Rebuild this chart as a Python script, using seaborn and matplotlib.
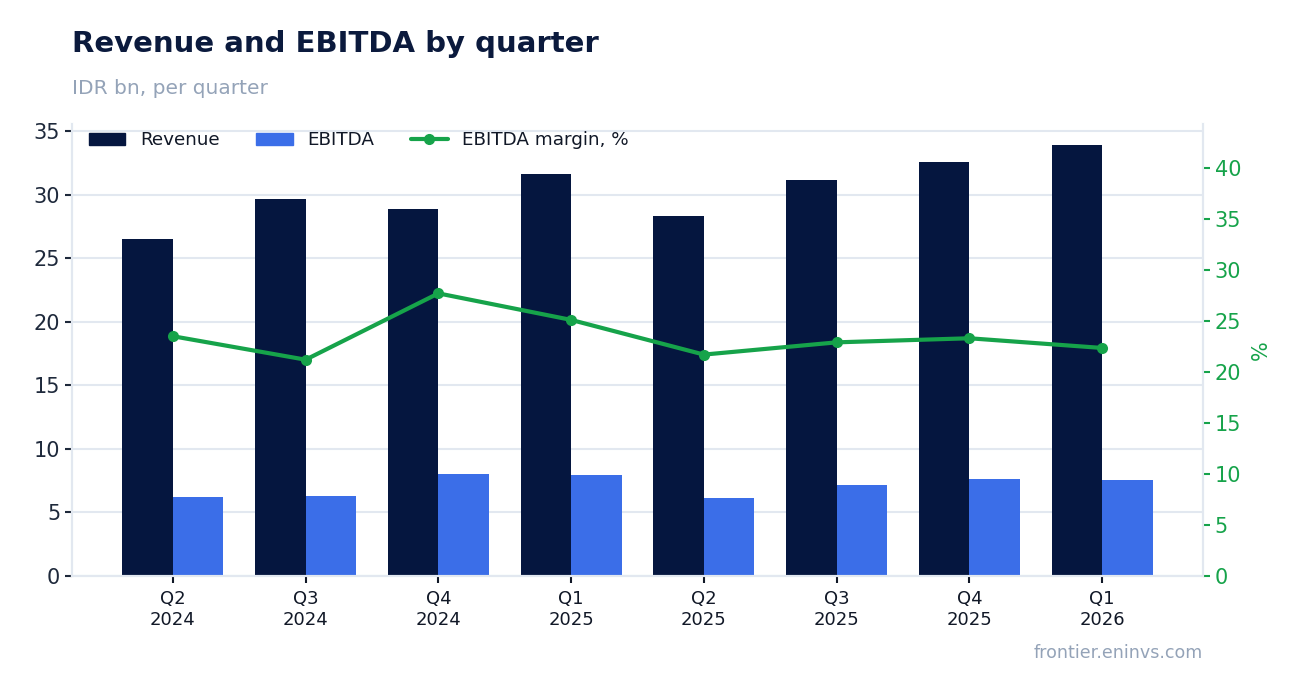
import numpy as np
import pandas as pd
import seaborn as sns
from matplotlib import pyplot as plt
from matplotlib.patches import Patch
from matplotlib.lines import Line2D

quarters = ["Q2\n2024", "Q3\n2024", "Q4\n2024", "Q1\n2025",
            "Q2\n2025", "Q3\n2025", "Q4\n2025", "Q1\n2026"]
revenue = [26.5, 29.65, 28.87, 31.62, 28.31, 31.15, 32.56, 33.9]
ebitda = [6.21, 6.29, 8.02, 7.94, 6.13, 7.16, 7.63, 7.55]
margin = [23.5, 21.2, 27.7, 25.1, 21.7, 22.9, 23.3, 22.35]

navy = "#05163f"
blue = "#3b6ee8"
green = "#16a34a"
grid_c = "#e2e8f0"

sns.set_theme(style="white")
plt.rcParams['font.family'] = ['DejaVu Sans']

df = pd.DataFrame({
    "quarter": quarters * 2,
    "value": revenue + ebitda,
    "series": ["Revenue"] * len(quarters) + ["EBITDA"] * len(quarters),
})

fig = plt.figure(figsize=(13.02, 6.93), dpi=100)
ax = fig.add_axes([72 / 1302, 1 - 576 / 693, (1203 - 72) / 1302, (576 - 124) / 693])

sns.barplot(data=df, x="quarter", y="value", hue="series",
            palette=[navy, blue], width=0.76, gap=0, saturation=1,
            linewidth=0, ax=ax, legend=False)
ax.set_xlim(-0.76, len(quarters) - 1 + 0.76)
ax.set_ylim(0, 35.55)
ax.set_yticks(range(0, 36, 5))
ax.set_xlabel("")
ax.set_ylabel("")
ax.grid(axis="y", color=grid_c, linewidth=1.5)
ax.set_axisbelow(True)
ax.tick_params(axis="y", labelsize=15, colors="#1e293b", length=5, width=1.5, left=True)
ax.tick_params(axis="x", labelsize=13, colors="#111827", length=5, width=1.5,
               bottom=True, pad=5)
ax.spines["top"].set_visible(False)
for s in ["left", "bottom", "right"]:
    ax.spines[s].set_color(grid_c)
    ax.spines[s].set_linewidth(1.5)

ax2 = ax.twinx()
sns.lineplot(x=np.arange(len(quarters)), y=margin, ax=ax2, color=green,
             linewidth=3, marker="o", markersize=8, markeredgewidth=0)
ax2.set_ylim(0, 44.3)
ax2.set_yticks(range(0, 41, 5))
ax2.tick_params(axis="y", labelsize=15, colors=green, length=5, width=1.5, right=True)
ax2.set_ylabel("%", color=green, fontsize=15, labelpad=7)
ax2.spines["top"].set_visible(False)
for s in ["left", "bottom", "right"]:
    ax2.spines[s].set_color(grid_c)
    ax2.spines[s].set_linewidth(1.5)
ax2.grid(False)

handles = [Patch(color=navy, label="Revenue"),
           Patch(color=blue, label="EBITDA"),
           Line2D([], [], color=green, linewidth=3, marker="o", markersize=7,
                  label="EBITDA margin, %")]
ax2.legend(handles=handles, loc="upper left", ncol=3, frameon=False,
           fontsize=13.2, bbox_to_anchor=(0.0, 1.02), handlelength=2.0,
           columnspacing=2.0, labelcolor="#111827")

fig.text(72 / 1302, 1 - 52 / 693, "Revenue and EBITDA by quarter",
         fontsize=21, fontweight="bold", color="#0b1a3d", ha="left", va="baseline")
fig.text(72 / 1302, 1 - 94 / 693, "IDR bn, per quarter",
         fontsize=14.5, color="#94a3b8", ha="left", va="baseline")
fig.text(1203 / 1302, 1 - 658 / 693, "frontier.eninvs.com",
         fontsize=12.6, color="#94a3b8", ha="right", va="baseline")

fig.savefig("out.png", dpi=100, facecolor="white")
